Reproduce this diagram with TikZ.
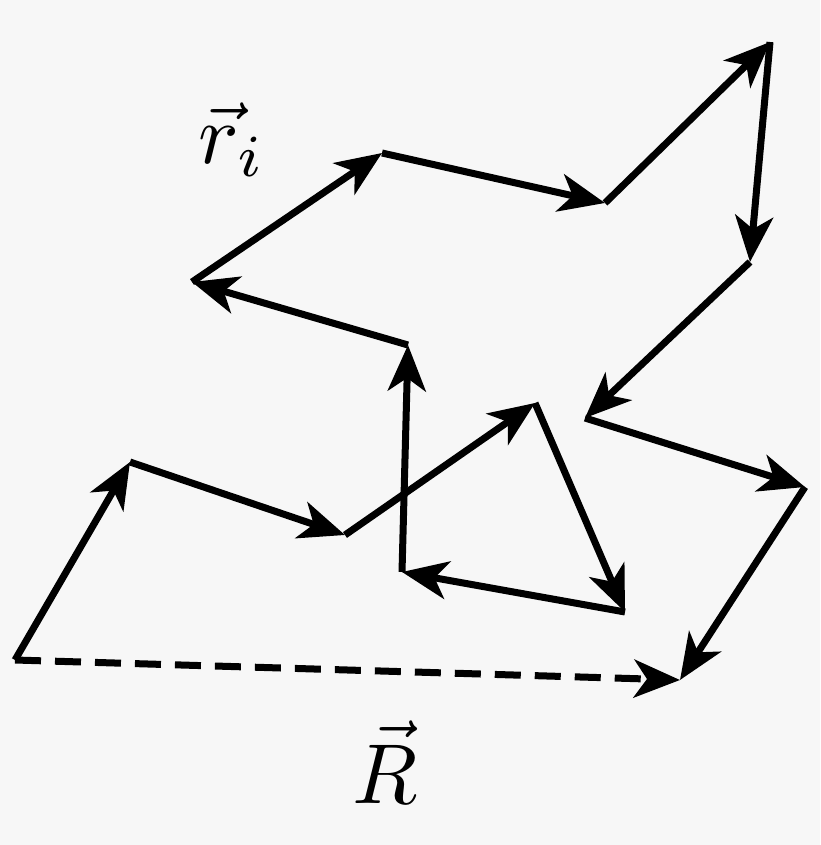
\documentclass[tikz,border=0pt]{standalone}
\usetikzlibrary{arrows.meta}
\begin{document}
\begin{tikzpicture}[x=1pt,y=-1pt,
  seg/.style={line width=7pt,-{Stealth[length=46pt,width=38pt,inset=13pt]}},
  lbl/.style={scale=8.5}]
\fill[gray!6] (0,0) rectangle (820,845);
\useasboundingbox (0,0) rectangle (820,845);
\coordinate (p0) at (15,660);
\coordinate (p1) at (130,462);
\coordinate (p2) at (345,535);
\coordinate (p3) at (535,403);
\coordinate (p4) at (625,612);
\coordinate (p5) at (402,572);
\coordinate (p6) at (408,345);
\coordinate (p7) at (192,282);
\coordinate (p8) at (382,153);
\coordinate (p9) at (605,203);
\coordinate (p10) at (770,42);
\coordinate (p11) at (750,262);
\coordinate (p12) at (585,418);
\coordinate (p13) at (805,487);
\coordinate (p14) at (680,680);
\foreach \a/\b in {0/1,1/2,2/3,3/4,4/5,5/6,6/7,7/8,8/9,9/10,10/11,11/12,12/13,13/14}
  \draw[seg] (p\a) -- (p\b);
\draw[seg,dash pattern=on 26pt off 14pt] (p0) -- (p14);
\node[lbl] (ri) at (232,140) {$\vec r_i$};
\node[lbl] (R) at (385,762) {$\vec R$};
\end{tikzpicture}
\end{document}
